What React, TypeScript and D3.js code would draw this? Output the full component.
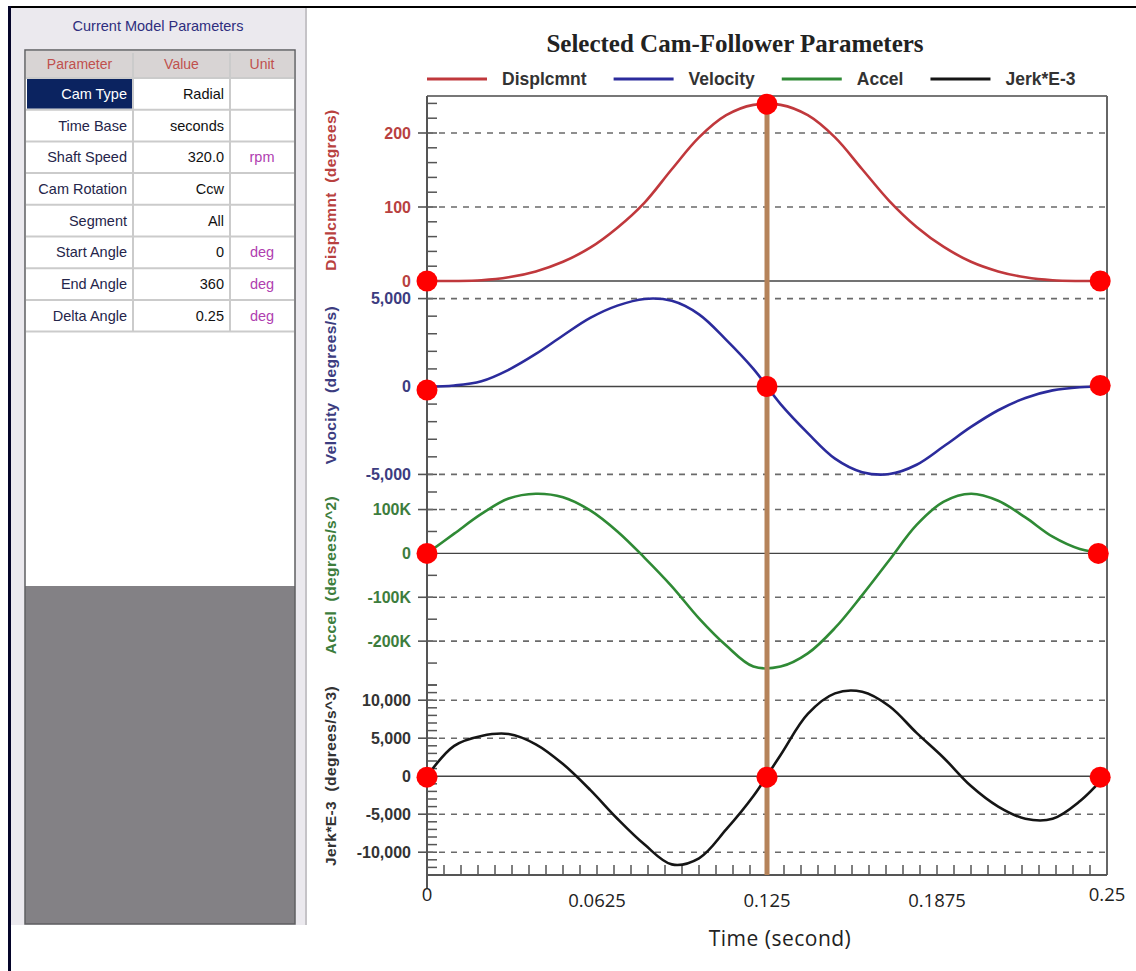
import React, { useEffect, useRef } from "react";
import * as d3 from "d3";

// left-hand parameter table
const paramNames = ["Cam Type", "Time Base", "Shaft Speed", "Cam Rotation", "Segment", "Start Angle", "End Angle", "Delta Angle"];
const paramValues = ["Radial", "seconds", "320.0", "Ccw", "All", "0", "360", "0.25"];
const paramUnits = ["", "", "rpm", "", "", "deg", "deg", "deg"];
const tableHeaders = ["Parameter", "Value", "Unit"];

// time samples (second)
const time = [
  0, 0.01, 0.02, 0.03, 0.04, 0.05, 0.06, 0.07, 0.08, 0.09, 0.1, 0.11, 0.12,
  0.13, 0.14, 0.15, 0.16, 0.17, 0.18, 0.19, 0.2, 0.21, 0.22, 0.23, 0.24, 0.25,
];
const displacement = [
  0, 0, 1, 5, 13, 26, 45, 72, 106, 151, 194, 224, 238,
  238, 224, 194, 151, 108, 73, 46, 26, 13, 5, 1, 0, 0,
];
const velocity = [
  0, 60, 300, 950, 1850, 2900, 3900, 4600, 4980, 4870, 4100, 2650, 1000,
  -1000, -2650, -4100, -4870, -4980, -4450, -3400, -2300, -1350, -650, -220, -40, 0,
];
const accel = [
  0, 45000, 90000, 125000, 136000, 128000, 98000, 50000, -10000, -75000, -148000, -210000, -258000,
  -258000, -228000, -170000, -95000, -15000, 65000, 118000, 136000, 120000, 82000, 38000, 10000, 0,
];
const jerk = [
  0, 4000, 5300, 5550, 4200, 1600, -1800, -5600, -9000, -11600, -10800, -7000, -2600,
  2800, 8200, 10900, 11100, 9200, 5700, 2400, -1300, -4000, -5600, -5600, -3300, 300,
];

const seriesNames = ["Displcmnt", "Velocity", "Accel", "Jerk*E-3"];
const seriesUnits = ["(degrees)", "(degrees/s)", "(degrees/s^2)", "(degrees/s^3)"];
const seriesColors = ["#c0383c", "#2b2b9c", "#2f8a35", "#151515"];
const labelColors = ["#b8413f", "#3c3c80", "#3d7d3d", "#333333"];

const dispTicks = [0, 100, 200];
const dispTickLabels = ["0", "100", "200"];
const velTicks = [-5000, 0, 5000];
const velTickLabels = ["-5,000", "0", "5,000"];
const accelTicks = [-200000, -100000, 0, 100000];
const accelTickLabels = ["-200K", "-100K", "0", "100K"];
const jerkTicks = [-10000, -5000, 0, 5000, 10000];
const jerkTickLabels = ["-10,000", "-5,000", "0", "5,000", "10,000"];

const xTicks = [0, 0.0625, 0.125, 0.1875, 0.25];
const xTickLabels = ["0", "0.0625", "0.125", "0.1875", "0.25"];

const cursorTime = 0.125;

// red markers: panel index, time, value
const markerPanel = [0, 0, 0, 1, 1, 1, 2, 2, 3, 3, 3];
const markerTime = [0, 0.125, 0.2475, 0, 0.125, 0.2475, 0, 0.2468, 0, 0.125, 0.2475];
const markerValue = [0, 239, 0, -200, 0, 60, 0, 0, -130, -130, -130];

export default function App() {
  const containerRef = useRef(null);
  useEffect(() => {
    drawChart();
  }, []);

  function drawChart() {
    const width = 1136;
    const height = 971;
    const xLeft = 427,
      xRight = 1107,
      plotTop = 96,
      plotBottom = 875;

    const container = d3.select(containerRef.current);
    container.selectAll("*").remove();

    const svg = container
      .append("svg")
      .attr("width", width)
      .attr("height", height)
      .style("position", "absolute")
      .style("left", 0)
      .style("top", 0)
      .style("background", "#fff");

    // page frame lines
    svg.append("line").attr("x1", 8).attr("x2", width).attr("y1", 7).attr("y2", 7)
      .attr("stroke", "#000").attr("stroke-width", 2);
    svg.append("line").attr("x1", 9.5).attr("x2", 9.5).attr("y1", 6).attr("y2", height)
      .attr("stroke", "#05052a").attr("stroke-width", 3);

    // ---- left panel ----
    const side = svg.append("g").attr("font-family", "'Liberation Sans', Arial, sans-serif");
    side.append("rect").attr("x", 11).attr("y", 8).attr("width", 296).attr("height", 917).attr("fill", "#ebe9ee");
    side.append("line").attr("x1", 306).attr("x2", 306).attr("y1", 8).attr("y2", 925)
      .attr("stroke", "#b8b6ba").attr("stroke-width", 1.5);
    side.append("text").attr("x", 158).attr("y", 31).attr("text-anchor", "middle")
      .attr("font-size", 14.5).attr("fill", "#2e2e7e").text("Current Model Parameters");

    side.append("rect").attr("x", 25).attr("y", 50).attr("width", 270).attr("height", 536)
      .attr("fill", "#fff");
    side.append("rect").attr("x", 25).attr("y", 586).attr("width", 270).attr("height", 338)
      .attr("fill", "#838185");
    side.append("rect").attr("x", 25).attr("y", 50).attr("width", 270).attr("height", 874)
      .attr("fill", "none").attr("stroke", "#5f5f62").attr("stroke-width", 1.5);

    const colEdges = [26, 133, 230, 294];
    const rowH = 31.7;
    const headY = 51;
    const bodyY = 78;

    side.append("rect").attr("x", 26).attr("y", headY).attr("width", 268).attr("height", bodyY - headY)
      .attr("fill", "#d8d4d4");
    side.selectAll(".hdr").data(tableHeaders).join("text")
      .attr("x", (d, i) => (colEdges[i] + colEdges[i + 1]) / 2)
      .attr("y", 69).attr("text-anchor", "middle").attr("font-size", 14)
      .attr("fill", "#c0504d").text((d) => d);

    // highlighted first cell
    side.append("rect").attr("x", 27).attr("y", bodyY + 1).attr("width", 105).attr("height", rowH - 2)
      .attr("fill", "#0b2360");

    const rows = d3.range(paramNames.length);
    side.selectAll(".rowline").data(d3.range(paramNames.length + 1)).join("line")
      .attr("x1", 26).attr("x2", 294)
      .attr("y1", (i) => bodyY + i * rowH).attr("y2", (i) => bodyY + i * rowH)
      .attr("stroke", "#cbcbcb").attr("stroke-width", 2);
    side.selectAll(".colline").data([1, 2]).join("line")
      .attr("x1", (i) => colEdges[i]).attr("x2", (i) => colEdges[i])
      .attr("y1", headY + 2).attr("y2", bodyY + paramNames.length * rowH)
      .attr("stroke", "#cbcbcb").attr("stroke-width", 2);

    side.selectAll(".pname").data(rows).join("text")
      .attr("x", 127).attr("y", (i) => bodyY + i * rowH + rowH / 2 + 5)
      .attr("text-anchor", "end").attr("font-size", 14.5)
      .attr("fill", (i) => (i === 0 ? "#ffffff" : "#25254a"))
      .text((i) => paramNames[i]);
    side.selectAll(".pval").data(rows).join("text")
      .attr("x", 224).attr("y", (i) => bodyY + i * rowH + rowH / 2 + 5)
      .attr("text-anchor", "end").attr("font-size", 14.5).attr("fill", "#111")
      .text((i) => paramValues[i]);
    side.selectAll(".punit").data(rows).join("text")
      .attr("x", 262).attr("y", (i) => bodyY + i * rowH + rowH / 2 + 5)
      .attr("text-anchor", "middle").attr("font-size", 14.5).attr("fill", "#b040b0")
      .text((i) => paramUnits[i]);

    // ---- chart ----
    const x = d3.scaleLinear().domain([0, 0.25]).range([xLeft, xRight]);

    const panels = [
      { values: displacement, domain: [0, 250], range: [281, 96], ticks: dispTicks, labels: dispTickLabels, minor: 20, titleY: 190 },
      { values: velocity, domain: [-6000, 6000], range: [492, 281], ticks: velTicks, labels: velTickLabels, minor: 1000, titleY: 385 },
      { values: accel, domain: [-300000, 140000], range: [685, 492], ticks: accelTicks, labels: accelTickLabels, minor: 50000, titleY: 575 },
      { values: jerk, domain: [-13000, 12000], range: [875, 685], ticks: jerkTicks, labels: jerkTickLabels, minor: 1000, titleY: 776 },
    ].map((p) => ({ ...p, y: d3.scaleLinear().domain(p.domain).range(p.range) }));

    const chart = svg.append("g").attr("font-family", "'Liberation Sans', Arial, sans-serif");

    // title
    chart.append("text").attr("x", 735).attr("y", 52).attr("text-anchor", "middle")
      .attr("font-family", "'Liberation Serif', 'Times New Roman', serif")
      .attr("font-weight", "bold").attr("font-size", 25).attr("fill", "#222")
      .text("Selected Cam-Follower Parameters");

    // legend
    let lx = xLeft;
    seriesNames.forEach((name, i) => {
      chart.append("line").attr("x1", lx).attr("x2", lx + 60).attr("y1", 79).attr("y2", 79)
        .attr("stroke", seriesColors[i]).attr("stroke-width", 3);
      const t = chart.append("text").attr("x", lx + 75).attr("y", 85)
        .attr("font-size", 17.5).attr("font-weight", "bold").attr("fill", "#333").text(name);
      const w = (t.node() as SVGTextElement).getComputedTextLength();
      lx = lx + 75 + w + 27;
    });

    // grid, ticks and labels for each panel
    panels.forEach((p, pi) => {
      const g = chart.append("g");
      // minor ticks
      const lo = Math.ceil(p.domain[0] / p.minor) * p.minor;
      const minors = d3.range(lo, p.domain[1] + 1e-9, p.minor);
      g.selectAll(".minor").data(minors).join("line")
        .attr("x1", xLeft).attr("x2", xLeft + 10)
        .attr("y1", (d) => p.y(d)).attr("y2", (d) => p.y(d))
        .attr("stroke", "#555").attr("stroke-width", 1.5);
      // grid lines
      g.selectAll(".grid").data(p.ticks).join("line")
        .attr("x1", xLeft).attr("x2", xRight)
        .attr("y1", (d) => p.y(d)).attr("y2", (d) => p.y(d))
        .attr("stroke", (d) => (d === 0 ? "#444" : "#6a6a6a"))
        .attr("stroke-width", (d) => (d === 0 ? 1.4 : 1.6))
        .attr("stroke-dasharray", (d) => (d === 0 ? null : "6,6"));
      // major ticks
      g.selectAll(".major").data(p.ticks).join("line")
        .attr("x1", xLeft - 9).attr("x2", xLeft)
        .attr("y1", (d) => p.y(d)).attr("y2", (d) => p.y(d))
        .attr("stroke", "#555").attr("stroke-width", 1.6);
      g.selectAll(".lbl").data(p.ticks).join("text")
        .attr("x", xLeft - 16).attr("y", (d) => p.y(d) + 5.5)
        .attr("text-anchor", "end").attr("font-size", 16).attr("font-weight", "bold")
        .attr("fill", labelColors[pi])
        .text((d, i) => p.labels[i]);
      // axis title
      g.append("text")
        .attr("transform", `translate(336,${p.titleY}) rotate(-90)`)
        .attr("text-anchor", "middle").attr("font-size", 15.5).attr("font-weight", "bold")
        .attr("letter-spacing", 0.4)
        .style("white-space", "pre")
        .attr("fill", labelColors[pi])
        .text(`${seriesNames[pi]}  ${seriesUnits[pi]}`);
    });

    // x-axis minor ticks
    const xMinor = d3.range(0, 0.25 + 1e-9, 0.00625);
    chart.selectAll(".xminor").data(xMinor).join("line")
      .attr("x1", (d) => x(d)).attr("x2", (d) => x(d))
      .attr("y1", plotBottom).attr("y2", plotBottom - 10)
      .attr("stroke", "#555").attr("stroke-width", 1.5);

    // frame
    chart.append("line").attr("x1", xLeft).attr("x2", xRight).attr("y1", plotTop).attr("y2", plotTop)
      .attr("stroke", "#777").attr("stroke-width", 2);
    chart.append("line").attr("x1", xRight).attr("x2", xRight).attr("y1", plotTop).attr("y2", plotBottom)
      .attr("stroke", "#666").attr("stroke-width", 2);
    chart.append("line").attr("x1", xLeft).attr("x2", xRight).attr("y1", plotBottom).attr("y2", plotBottom)
      .attr("stroke", "#555").attr("stroke-width", 2);
    chart.append("line").attr("x1", xLeft).attr("x2", xLeft).attr("y1", plotTop).attr("y2", 888)
      .attr("stroke", "#555").attr("stroke-width", 2);

    // x tick labels and title
    chart.selectAll(".xlbl").data(xTicks).join("text")
      .attr("x", (d) => x(d)).attr("y", (d, i) => (i === 0 || i === xTicks.length - 1 ? 901 : 907))
      .attr("text-anchor", "middle")
      .attr("font-family", "'Open Sans', sans-serif").attr("font-size", 18.5).attr("fill", "#222")
      .text((d, i) => xTickLabels[i]);
    chart.append("text").attr("x", 780).attr("y", 946).attr("text-anchor", "middle")
      .attr("font-family", "'Open Sans', sans-serif").attr("font-size", 21).attr("letter-spacing", 0.5)
      .attr("fill", "#222").text("Time (second)");

    // curves
    panels.forEach((p, pi) => {
      const line = d3.line<number>()
        .x((d, i) => x(time[i]))
        .y((d) => p.y(d))
        .curve(d3.curveCatmullRom.alpha(0.5));
      chart.append("path").attr("d", line(p.values))
        .attr("fill", "none").attr("stroke", seriesColors[pi]).attr("stroke-width", 2.6);
    });

    // cursor
    chart.append("line").attr("x1", x(cursorTime)).attr("x2", x(cursorTime))
      .attr("y1", plotTop).attr("y2", plotBottom)
      .attr("stroke", "#b5835a").attr("stroke-width", 5);

    // markers
    chart.selectAll(".marker").data(d3.range(markerTime.length)).join("circle")
      .attr("cx", (i) => x(markerTime[i]))
      .attr("cy", (i) => panels[markerPanel[i]].y(markerValue[i]))
      .attr("r", 10.5).attr("fill", "#ff0000");
  }

  return (
    <div>
      <div ref={containerRef}></div>
    </div>
  );
}
